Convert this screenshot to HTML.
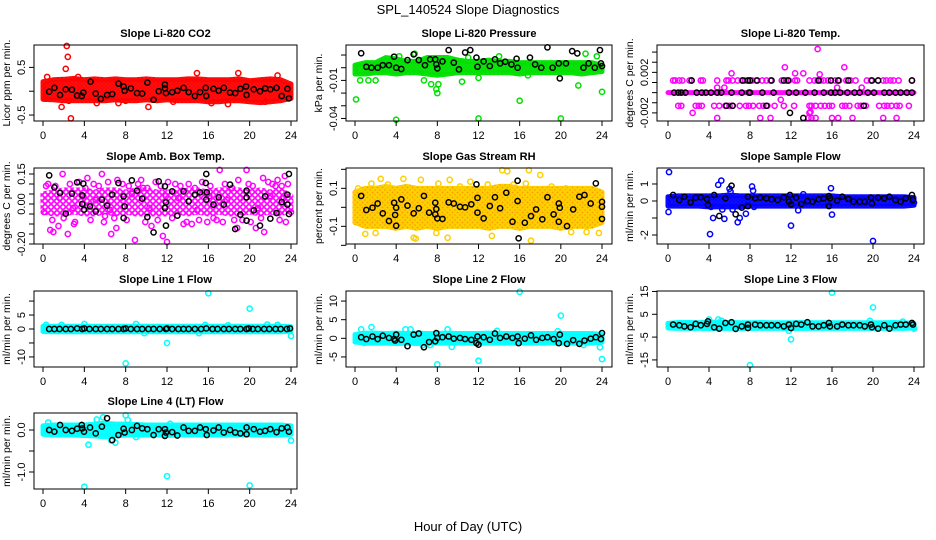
<!DOCTYPE html>
<html><head><meta charset="utf-8"><style>
body{margin:0;background:#fff}
svg{display:block;font-family:"Liberation Sans",sans-serif}
</style></head><body>
<svg id="chart" width="936" height="540" viewBox="0 0 936 540">
<defs id="defs"></defs>
<text x="468" y="14" font-size="13" text-anchor="middle">SPL_140524  Slope Diagnostics</text>
<text x="468" y="531" font-size="13" text-anchor="middle">Hour of Day (UTC)</text>
</svg>
<script>
// ---------- data ----------
const hours=[0,1,2,3,4,5,6,7,8,9,10,11,12,13,14,15,16,17,18,19,20,21,22,23,24];
const xTicks=[0,4,8,12,16,20,24];

const co2BandLo=[-0.17,-0.18,-0.2,-0.2,-0.2,-0.2,-0.2,-0.18,-0.2,-0.2,-0.18,-0.2,-0.18,-0.2,-0.2,-0.2,-0.22,-0.22,-0.2,-0.2,-0.22,-0.24,-0.22,-0.2,-0.15];
const co2BandHi=[0.2,0.24,0.25,0.27,0.24,0.26,0.24,0.26,0.24,0.24,0.26,0.24,0.24,0.24,0.26,0.26,0.24,0.24,0.24,0.26,0.22,0.24,0.26,0.24,0.15];
const co2OutX=[2.3,2.4,2.2,1.8,2.7,2.5,10.2,17.9,7.3,14.9,18.9,0.4,22.7,3.4,5.2,0.2,8,12.6,16.3,21.5];
const co2OutY=[0.95,0.72,0.47,-0.33,-0.57,-0.2,-0.33,-0.27,-0.25,0.38,0.38,0.3,0.33,0.3,-0.25,-0.15,-0.2,-0.22,-0.25,-0.22];
const co2BlkX=[0.6,1.1,1.65,2.2,2.8,3.3,3.75,3.9,4.6,5.1,5.6,6.2,6.7,7.3,7.8,7.9,8.5,9.1,9.6,10.1,10.7,11.2,11.8,11.8,11.9,12.5,13,13.6,14.1,14.7,15.2,15.75,15.8,16.5,17,17.5,18.1,18.6,19.1,19.65,19.7,20.4,21,21.5,22,22.6,23.1,23.65,23.8];
const co2BlkY=[-0.01,0.07,-0.08,0.04,0.03,-0.09,-0.1,-0.03,0.2,-0.05,-0.16,-0.08,-0.06,0.16,0.1,0.01,0.06,-0.04,-0.05,0.18,-0.18,0,0.06,0.14,-0.04,-0.02,0.01,0.07,-0.02,-0.1,-0.02,0.07,-0.1,0.05,0.01,0.07,-0.03,-0.04,0.05,0.1,-0.08,0.04,0,0.06,0.04,0.07,-0.1,0.05,-0.15];

const presBandLo=[-0.005,-0.005,-0.004,-0.004,-0.005,-0.004,-0.004,-0.005,-0.006,-0.005,-0.004,-0.004,-0.004,-0.004,-0.004,-0.004,-0.005,-0.004,-0.004,-0.004,-0.004,-0.004,-0.005,-0.004,-0.003];
const presBandHi=[0.002,0.004,0.004,0.008,0.007,0.005,0.005,0.008,0.008,0.008,0.006,0.005,0.005,0.006,0.005,0.005,0.004,0.004,0.004,0.004,0.004,0.004,0.004,0.004,0.002];
const presOutX=[0.1,4,12,16,20,24,8,7.9,8.1,21.7,0.5,1.3,10.4,14,22.4,23.5,2,6.7,12,16.8,7.4,4.3,5.8,11];
const presOutY=[-0.025,-0.041,-0.040,-0.026,-0.040,-0.019,-0.02,-0.017,-0.013,-0.014,-0.01,-0.01,-0.011,0.009,0.011,0.009,-0.01,-0.01,-0.008,-0.006,-0.013,0.009,0.011,0.008];
const presBlkX=[0.6,1.1,1.6,2.2,2.7,3.3,3.8,4.0,4.5,5.1,5.7,6.2,6.8,7.3,7.8,7.9,8.0,8.5,9.1,9.6,10.1,10.7,11.2,11.8,11.9,12.5,13.1,13.6,14.1,14.6,15.2,15.7,15.8,17,17.5,18.1,18.7,19.2,19.8,19.9,20.5,21.1,21.6,22.2,22.7,23.3,23.8,23.9,24];
const presBlkY=[0.0114,0.0007,0,0,0.002,0.002,0.0087,0,-0.001,0.006,0.0105,0.006,0.002,0.0066,0.0066,0.0026,-0.0005,0.005,0.0139,0.004,-0.0013,0.012,0.0139,0.008,0.0008,0.005,0.0013,0.0066,0.0034,0.0047,0.0026,0.0071,0,0.008,0.0026,0,0.016,0,0.0034,-0.0084,0.0034,0.0131,0.0113,0,0.0034,0,0.0139,0.0034,0.0013];

const tempBandLo=[0,0,0,0,0,0,0,0,0,0,0,0,0,0,0,0,0,0,0,0,0,0,0,0,0];
const tempBandHi=[0,0,0,0,0,0,0,0,0,0,0,0,0,0,0,0,0,0,0,0,0,0,0,0,0];
const tempOutX=[0.5,0.7,1.1,1.4,2.1,2.3,3.2,3.4,4.8,5.7,5.9,6.3,6.8,7.2,7.5,8.0,8.2,8.6,9.2,9.6,10.0,11.1,11.5,11.8,12.4,12.6,13.8,14.3,14.6,14.9,15.2,15.6,16.3,16.7,17.4,17.8,18.3,19.4,19.8,20.5,21.0,21.3,21.7,22.0,22.5,23.8,
1.0,1.3,2.7,3.0,3.3,4.5,5.0,5.6,6.0,6.3,7.0,7.6,7.9,8.3,8.9,9.3,9.7,10.4,11.3,12.3,13.8,14.0,14.4,14.9,15.3,15.7,16.0,17.0,17.3,17.7,18.5,18.8,19.3,20.6,21.1,21.4,21.8,22.3,22.6,23.5,
4.8,9.0,10.0,13.7,14.0,14.4,16.0,16.6,18.0,21.0,22.3,
14.6,11.4,17.2,6.2,12.4,13.2,14.8,4.8,5.5,16.5,18.9,11,2.4,13.8,13.9];
const tempOutY=[0.0012,0.0012,0.0012,0.0012,0.0012,0.0012,0.0012,0.0012,0.0012,0.0012,0.0012,0.0012,0.0012,0.0012,0.0012,0.0012,0.0012,0.0012,0.0012,0.0012,0.0012,0.0012,0.0012,0.0012,0.0012,0.0012,0.0012,0.0012,0.0012,0.0012,0.0012,0.0012,0.0012,0.0012,0.0012,0.0012,0.0012,0.0012,0.0012,0.0012,0.0012,0.0012,0.0012,0.0012,0.0012,0.0012,
-0.0013,-0.0013,-0.0013,-0.0013,-0.0013,-0.0013,-0.0013,-0.0013,-0.0013,-0.0013,-0.0013,-0.0013,-0.0013,-0.0013,-0.0013,-0.0013,-0.0013,-0.0013,-0.0013,-0.0013,-0.0013,-0.0013,-0.0013,-0.0013,-0.0013,-0.0013,-0.0013,-0.0013,-0.0013,-0.0013,-0.0013,-0.0013,-0.0013,-0.0013,-0.0013,-0.0013,-0.0013,-0.0013,-0.0013,-0.0013,
-0.0025,-0.0025,-0.0025,-0.0025,-0.0025,-0.0025,-0.0025,-0.0025,-0.0025,-0.0025,-0.0025,
0.0043,0.0025,0.0025,0.0019,0.0019,0.0019,0.0018,0.0005,0.0005,0.0005,0.0005,-0.0007,-0.002,-0.002,-0.0019];
const tempBlkX=[2.3,7.3,7.8,8.0,8.7,10.1,11.3,11.7,14.7,15.9,16.6,17.6,19.9,20.5,23.8,
5.7,6.3,9.6,19.1,13.2,11.9,
0.6,1.0,1.3,1.7,2.8,3.3,3.7,4.2,4.8,5.2,6.2,7.2,7.9,8.0,9.2,10.3,11.8,12.5,13.4,14.3,15.2,15.9,16.3,16.8,17.5,18.2,18.7,19.5,20.1,21.1,21.6,22.2,22.7,23.3,23.8];
const tempBlkY=[0.0012,0.0012,0.0012,0.0012,0.0012,0.0012,0.0012,0.0012,0.0012,0.0012,0.0012,0.0012,0.0012,0.0012,0.0012,
-0.0013,-0.0013,-0.0013,-0.0013,-0.0025,-0.002,
0,0,0,0,0,0,0,0,0,0,0,0,0,0,0,0,0,0,0,0,0,0,0,0,0,0,0,0,0,0,0,0,0,0,0];

const ambBandLo=[-0.04,-0.05,-0.05,-0.04,-0.05,-0.05,-0.04,-0.05,-0.04,-0.05,-0.05,-0.05,-0.05,-0.04,-0.05,-0.04,-0.05,-0.04,-0.05,-0.05,-0.04,-0.05,-0.04,-0.05,-0.03];
const ambBandHi=[0.05,0.06,0.07,0.07,0.07,0.06,0.07,0.07,0.06,0.07,0.07,0.06,0.06,0.06,0.07,0.07,0.06,0.07,0.07,0.07,0.06,0.07,0.06,0.07,0.04];
const ambOutX=[1.9,5.7,17.1,19.7,4.3,7.2,9.5,12.1,18.9,21.3,22.7,23.4,0.7,1,2.4,6.6,7.1,8.9,10.5,11.6,12,14.4,15.9,18.8,20.6,21.4,0.3,3,13.6,16.8,22.5,24,0.1,1.5,6,9.7,14.7,19.3,
0.5,1.2,2.6,3.5,4.1,4.9,5.4,6.3,7.7,8.3,9.2,10.1,10.9,11.4,12.8,13.3,14.1,15.4,16.2,17.6,18.3,19.9,20.3,21.8,22.2,23.1,23.7,
0.9,2.0,3.1,4.6,5.9,6.9,8.1,9.9,11.1,12.5,13.9,15.1,16.5,17.4,18.5,20.1,21.1,22.9,23.5,
1.6,2.9,3.9,5.1,6.5,7.5,8.6,10.3,11.9,13.1,14.9,16.1,17.8,19.1,20.8,22.0,23.3];
const ambOutY=[0.15,0.15,0.17,0.17,0.13,0.12,0.12,0.11,0.12,0.13,0.12,0.14,-0.13,-0.14,-0.15,-0.15,-0.12,-0.18,-0.11,-0.16,-0.19,-0.1,-0.09,-0.12,-0.12,-0.14,0.09,-0.1,-0.1,-0.08,0.09,-0.04,-0.04,-0.11,-0.06,0.08,0.08,-0.08,
0.1,0.09,0.1,0.11,0.08,0.1,0.09,0.11,0.1,0.09,0.1,0.08,0.11,0.09,0.1,0.09,0.1,0.11,0.09,0.1,0.08,0.1,0.09,0.11,0.1,0.09,0.1,
-0.08,-0.07,-0.09,-0.08,-0.09,-0.07,-0.08,-0.09,-0.08,-0.07,-0.09,-0.08,-0.07,-0.09,-0.08,-0.09,-0.07,-0.08,-0.09,
0.03,-0.02,0.04,0.02,-0.03,0.03,0.05,-0.02,0.04,0.03,-0.03,0.04,0.02,0.03,-0.02,0.04,0.03];
const ambBlkX=[0.6,1.1,1.65,2.2,2.8,3.3,3.9,3.8,3.8,3.97,4.55,5.1,5.7,6.2,6.7,7.3,7.8,7.9,7.8,8.6,9.1,9.6,10.1,10.7,11.2,11.8,11.9,11.8,11.9,12.5,13,13.6,14.1,14.7,15.2,15.8,15.75,15.8,15.85,16.5,17,17.5,18.1,18.6,19.1,19.7,19.7,19.7,20.4,21,21.5,22,22.6,23.1,23.65,23.8,23.65,23.8];
const ambBlkY=[0.143,0.083,0.055,-0.048,0.052,0.108,0.102,0.043,0,-0.028,-0.012,-0.037,0.022,-0.008,0.047,0.105,0.038,-0.012,-0.07,0.118,0.067,0.027,-0.065,-0.142,0.113,0.088,0.008,-0.02,-0.108,0.063,-0.058,0.063,0.013,0.047,0.058,0.15,0.105,0.022,0.058,-0.003,0.033,-0.003,0.097,-0.125,-0.053,0.067,0.033,-0.083,-0.032,-0.108,0.038,-0.073,-0.045,0.01,0.047,0.15,-0.003,-0.05];

const rhBandLo=[-0.08,-0.1,-0.1,-0.1,-0.11,-0.1,-0.11,-0.1,-0.11,-0.1,-0.1,-0.1,-0.1,-0.11,-0.1,-0.1,-0.11,-0.1,-0.1,-0.1,-0.11,-0.1,-0.1,-0.1,-0.08];
const rhBandHi=[0.08,0.1,0.1,0.11,0.1,0.11,0.1,0.1,0.1,0.1,0.1,0.1,0.1,0.1,0.11,0.11,0.1,0.1,0.1,0.1,0.1,0.1,0.1,0.1,0.08];
const rhOutX=[1,2,5.7,5.9,7.9,9,13.3,17.1,21,22.5,23.7,14.3,14.8,16.9,18,4.7,6.4,9.2,11.2,2.5,0.3,1.6,10.2,12.9,19.1,20.5,22.4,3.2,8.1,15.4,16.6];
const rhOutY=[-0.14,-0.135,-0.16,-0.165,-0.135,-0.16,-0.15,-0.175,-0.13,-0.13,-0.135,0.195,0.19,0.195,0.17,0.15,0.145,0.145,0.135,0.15,0.1,0.125,0.11,0.12,0.11,0.1,0.09,0.12,0.125,0.12,0.125];
const rhBlkX=[0.6,1.1,1.7,2.2,2.7,3.3,3.8,4.0,3.9,4.0,4.5,5.1,5.7,6.2,6.7,7.2,7.8,7.9,7.8,8.0,8.5,9.1,9.6,10.2,10.7,11.3,11.8,11.9,11.9,12.5,13.1,13.6,14.1,14.7,15.3,15.8,15.8,15.9,16.5,17.1,17.6,18.2,18.7,19.3,19.8,19.9,19.8,20.6,21.2,21.8,22.3,22.9,23.4,24,24,24];
const rhBlkY=[0.06,-0.014,-0.002,0.02,-0.032,-0.072,0.024,-0.002,-0.04,-0.097,0.042,0.009,-0.032,-0.005,0.06,-0.028,0.024,-0.009,-0.037,-0.058,-0.061,0.026,0.02,0.003,0,0.016,0.121,0.05,-0.028,-0.058,0.007,0.053,-0.005,0.077,-0.076,0.14,0.033,-0.163,-0.081,-0.046,-0.011,-0.063,0.053,-0.037,0.02,-0.002,-0.076,-0.099,-0.011,0.056,0.065,0.02,0.126,0.029,0.003,-0.061];

const sfBandLo=[-0.3,-0.3,-0.3,-0.3,-0.35,-0.35,-0.35,-0.35,-0.3,-0.3,-0.3,-0.3,-0.3,-0.3,-0.3,-0.3,-0.3,-0.3,-0.3,-0.3,-0.3,-0.3,-0.3,-0.3,-0.25];
const sfBandHi=[0.25,0.3,0.3,0.3,0.3,0.3,0.35,0.3,0.3,0.3,0.3,0.3,0.3,0.3,0.3,0.3,0.3,0.25,0.25,0.25,0.25,0.25,0.25,0.25,0.2];
const sfOutX=[0.1,0.05,4.1,4.4,4.9,5.2,5.5,5.3,6,6.1,6.8,7,7.6,8.2,8.3,8.4,12,12.7,13.2,15.9,16,20,24,4.2,6.3];
const sfOutY=[1.7,-0.65,-1.95,-1.0,0.95,1.2,-1.05,-0.5,0.72,0.55,-1.25,-1.0,-0.75,0.85,0.6,-0.35,-1.45,-0.55,0.4,0.75,-0.8,-2.35,-0.1,-0.35,-0.5];
const sfBlkX=[0.5,1.1,1.6,2.2,2.7,3.2,3.8,3.9,4.5,5.0,5.6,6.2,6.6,7.2,7.8,7.8,8.5,9.0,9.6,10.1,10.7,11.3,11.8,11.9,12,12.5,13.0,13.6,14.1,14.7,15.2,15.7,15.7,15.8,16.5,17.0,17.6,18.1,18.7,19.2,19.8,19.9,20.5,21.1,21.6,22.2,22.7,23.2,23.8,23.9];
const sfBlkY=[0.35,0.06,0.25,-0.08,0.2,0.22,0.12,-0.24,0.35,-0.88,0.16,0.9,-0.78,-0.39,0.25,-0.3,0.16,0.2,0.16,0.1,0.06,0.22,-0.04,0.35,-0.2,0.2,-0.18,0,-0.04,0.1,0.16,0.29,-0.3,0.16,0.02,0.25,0.12,-0.04,-0.04,-0.04,0.2,-0.14,0.2,0.16,0.25,0.06,-0.04,0.16,0.35,0.06];

const l1BandLo=[-0.9,-1,-1,-1,-1,-1,-1,-1,-1,-1,-1,-1,-1,-1,-1,-1,-1,-1,-1,-1,-1,-1,-1,-1,-0.8];
const l1BandHi=[1,1,1,1,1,1,1,1,1,1,1,1,1,1,1,1,1,1,1,1,1,1,1,1,0.8];
const l1OutX=[16,20,12,8,24,4,9,15.7,17.9,21.7,22.7,0.3,1.8,9.8,15.1];
const l1OutY=[12.8,7.3,-5,-12.3,-2.5,1.8,1.8,1.5,1.3,1.6,1.5,1.5,1.5,-1.5,-1.5];
const l1BlkX=[0.6,1.1,1.6,2.2,2.7,3.3,3.8,4.0,4.5,5.1,5.6,6.2,6.7,7.3,7.8,8.0,8.5,9.1,9.6,10.2,10.7,11.3,11.9,12.0,12.5,13.1,13.6,14.1,14.7,15.3,15.8,16.4,16.9,17.5,18.0,18.6,19.1,19.7,19.9,20.3,20.8,21.4,21.9,22.5,23.0,23.6,23.9];
const l1BlkY=[0,0,0,0,0,0.2,0,0.2,0,0,0,0,0,0,0,0.2,0,0,0,0,0,0,0,0.2,0,0,0,0,0,0,0.2,0,0,0,0,0,0,0,0.2,0,0,0,0,0,0,0,0.2];

const l2BandLo=[-1,-1.3,-1.3,-1.3,-1.4,-1.3,-1.4,-1.3,-1.3,-1.3,-1.3,-1.3,-1.3,-1.3,-1.3,-1.3,-1.3,-1.3,-1.3,-1.3,-1.3,-1.3,-1.3,-1.3,-1];
const l2BandHi=[1,1.4,1.4,1.3,1.4,1.3,1.4,1.3,1.3,1.4,1.3,1.3,1.3,1.4,1.3,1.3,1.3,1.3,1.3,1.3,1.3,1.3,1.3,1.3,1];
const l2OutX=[16,20,8,12,24,23.8,9.4,1.6,0.6,4.9,5.4,9.0,6.6,13.8,19.7,0.9,7.3,22.2];
const l2OutY=[12.5,6.1,-7,-6,-5.6,-2.4,-2.3,3,2.4,2.4,2.4,2.4,-1.8,2.0,1.9,-1.2,-1.8,-1.8];
const l2BlkX=[0.6,1.1,1.7,2.2,2.7,3.3,3.8,4.0,3.9,4.5,5.1,5.7,6.2,6.7,7.2,7.8,7.9,8.0,8.5,9.1,9.6,10.2,10.7,11.3,11.8,11.9,12,12.5,13.1,13.6,14.1,14.7,15.3,15.8,15.9,16.5,17.1,17.6,18.2,18.7,19.3,19.8,19.9,20.6,21.2,21.8,22.3,22.9,23.4,24,23.9];
const l2BlkY=[0.3,-0.2,0.5,-0.2,0.7,0.1,-0.2,1.0,-0.6,-0.4,-2.1,1.0,1.3,-2.4,-1.0,-0.8,1.4,0.1,0.3,0.5,-0.1,0.1,-0.2,-0.4,-1.3,0.5,-1.7,0.3,-0.4,1.3,0.1,0.5,0.1,0.5,-1.3,-0.1,0.8,-0.4,0.1,0.3,-0.2,-1.3,1.0,-1.5,-0.5,-1.5,-0.6,-0.1,0.3,1.4,-0.2];

const l3BandLo=[-1,-1.2,-1.2,-1.2,-1.3,-1.2,-1.2,-1.3,-1.2,-1.2,-1.2,-1.2,-1.3,-1.2,-1.2,-1.2,-1.2,-1.2,-1.2,-1.2,-1.2,-1.2,-1.2,-1.2,-1];
const l3BandHi=[1,1.4,1.4,1.3,1.6,1.4,1.4,1.3,1.3,1.4,1.3,1.3,1.3,1.4,1.3,1.3,1.3,1.3,1.3,1.3,1.3,1.3,1.4,1.3,1];
const l3OutX=[16,20,12,8,4,4.9,5.2,19.7,22.9,0.2,24,11.8];
const l3OutY=[14.5,8,-6,-17.3,2.7,2.7,2.2,2.1,1.8,0.3,-1.3,-2.2];
const l3BlkX=[0.5,1.1,1.6,2.2,2.7,3.2,3.8,3.9,4.5,5.0,5.6,6.2,6.6,7.2,7.8,7.8,8.5,9,9.6,10.1,10.7,11.3,11.8,12,12.5,13,13.6,14.1,14.7,15.2,15.7,15.8,16.5,17,17.6,18.1,18.7,19.2,19.8,19.9,20.5,21.1,21.6,22.2,22.7,23.2,23.8,23.9];
const l3BlkY=[0.5,0.2,-0.3,-0.7,0.8,0.2,0.8,1.9,-0.7,-1.3,1.2,1.5,-1.4,-0.3,0.5,-1,0.5,0.2,0.2,0.2,0.2,-0.3,0.5,-1,0.8,0.5,1.5,-0.3,-0.3,0.2,1.2,-0.3,-0.3,0.5,0.2,0.2,0.2,-0.3,0.5,-0.7,-1.3,0.2,-1.3,0.2,0.5,0.5,1.2,0.5];

const l4BandLo=[-0.1,-0.12,-0.12,-0.12,-0.13,-0.14,-0.16,-0.14,-0.12,-0.12,-0.12,-0.12,-0.13,-0.12,-0.12,-0.12,-0.12,-0.12,-0.12,-0.12,-0.12,-0.12,-0.12,-0.12,-0.1];
const l4BandHi=[0.1,0.12,0.12,0.12,0.12,0.14,0.16,0.14,0.14,0.13,0.12,0.12,0.12,0.12,0.12,0.12,0.12,0.12,0.12,0.12,0.12,0.12,0.12,0.12,0.1];
const l4OutX=[4,12,20,4.4,24,8,8.2,5.8,5.2,7,0.5,6.6,9,12.3];
const l4OutY=[-1.35,-1.1,-1.32,-0.35,-0.25,0.35,0.24,0.3,0.25,-0.3,0.18,-0.25,-0.17,0.15];
const l4BlkX=[0.6,1.1,1.65,2.2,2.8,3.3,3.75,3.8,3.97,4.55,5.1,5.7,6.2,6.7,7.3,7.8,7.9,8.6,9.1,9.6,10.1,10.7,11.2,11.8,11.8,11.9,12.5,13,13.6,14.1,14.7,15.2,15.75,15.85,16.5,17,17.5,18.1,18.6,19.1,19.7,19.7,20.4,21,21.5,22,22.6,23.1,23.65,23.8];
const l4BlkY=[0,-0.04,0.12,0,-0.02,0.03,0.12,0.04,-0.04,0.06,-0.08,0.08,0.28,-0.24,-0.12,0.03,-0.06,0,0.1,0.04,0.02,-0.12,0.02,0.02,-0.14,-0.06,-0.05,-0.13,0.06,-0.02,-0.02,0.06,0.02,-0.12,-0.01,0.06,-0.06,0,-0.06,-0.08,0.06,-0.1,0.02,-0.04,-0.02,0.02,-0.05,0.04,0.06,-0.04];

// ---------- layout ----------
const NS="http://www.w3.org/2000/svg";
const svg=document.getElementById('chart');
const defs=document.getElementById('defs');
const cols=[{l:34,r:297,x0:43,x24:291},{l:346,r:612,x0:355,x24:602},{l:657,r:924,x0:668,x24:914}];
const rowTop=[45,168,291,413], H=76;

const panels=[
 {id:'co2',title:'Slope Li-820 CO2',ylab:'Licor ppm per min.',c:0,r:0,ymin:-0.625,ymax:0.97,ticks:[-0.5,0,0.5],labs:['-0.5','','0.5'],col:'#ff0000',sp:4,lo:co2BandLo,hi:co2BandHi,ox:co2OutX,oy:co2OutY,bx:co2BlkX,by:co2BlkY},
 {id:'pressure',title:'Slope Li-820 Pressure',ylab:'kPa per min.',c:1,r:0,ymin:-0.042,ymax:0.0179,ticks:[-0.04,-0.03,-0.02,-0.01,0,0.01],labs:['-0.04','','','-0.01','',''],col:'#00e000',sp:4,lo:presBandLo,hi:presBandHi,ox:presOutX,oy:presOutY,bx:presBlkX,by:presBlkY},
 {id:'temp',title:'Slope Li-820 Temp.',ylab:'degrees C per min.',c:2,r:0,ymin:-0.0028,ymax:0.0047,ticks:[-0.002,-0.001,0,0.001,0.002,0.003,0.004],labs:['-0.002','','','','0.002','',''],col:'#ff00ff',sp:4,lo:tempBandLo,hi:tempBandHi,ox:tempOutX,oy:tempOutY,bx:tempBlkX,by:tempBlkY},
 {id:'amb',title:'Slope Amb. Box Temp.',ylab:'degrees C per min.',c:0,r:1,ymin:-0.2,ymax:0.18,ticks:[-0.2,-0.15,-0.1,-0.05,0,0.05,0.1,0.15],labs:['-0.20','','','','0.00','','','0.15'],col:'#ff00ff',sp:6,lo:ambBandLo,hi:ambBandHi,ox:ambOutX,oy:ambOutY,bx:ambBlkX,by:ambBlkY},
 {id:'rh',title:'Slope Gas Stream RH',ylab:'percent per min.',c:1,r:1,ymin:-0.193,ymax:0.207,ticks:[-0.2,-0.1,0,0.1,0.2],labs:['','-0.1','','0.1',''],col:'#ff9a00',edge:'#ffd000',sp:5,lo:rhBandLo,hi:rhBandHi,ox:rhOutX,oy:rhOutY,bx:rhBlkX,by:rhBlkY},
 {id:'sample',title:'Slope Sample Flow',ylab:'ml/min per min.',c:2,r:1,ymin:-2.53,ymax:1.94,ticks:[-2,-1,0,1],labs:['-2','','0','1'],col:'#0000ff',sp:4,lo:sfBandLo,hi:sfBandHi,ox:sfOutX,oy:sfOutY,bx:sfBlkX,by:sfBlkY},
 {id:'line1',title:'Slope Line 1 Flow',ylab:'ml/min per min.',c:0,r:2,ymin:-13.6,ymax:13.6,ticks:[-10,-5,0,5,10],labs:['-10','','0','5',''],col:'#00ffff',sp:4,lo:l1BandLo,hi:l1BandHi,ox:l1OutX,oy:l1OutY,bx:l1BlkX,by:l1BlkY},
 {id:'line2',title:'Slope Line 2 Flow',ylab:'ml/min per min.',c:1,r:2,ymin:-7.7,ymax:12.7,ticks:[-5,0,5,10],labs:['-5','0','5','10'],col:'#00ffff',sp:4,lo:l2BandLo,hi:l2BandHi,ox:l2OutX,oy:l2OutY,bx:l2BlkX,by:l2BlkY},
 {id:'line3',title:'Slope Line 3 Flow',ylab:'ml/min per min.',c:2,r:2,ymin:-18.1,ymax:15.2,ticks:[-15,-5,5,15],labs:['-15','-5','5','15'],col:'#00ffff',sp:4,lo:l3BandLo,hi:l3BandHi,ox:l3OutX,oy:l3OutY,bx:l3BlkX,by:l3BlkY},
 {id:'line4',title:'Slope Line 4 (LT) Flow',ylab:'ml/min per min.',c:0,r:3,ymin:-1.405,ymax:0.405,ticks:[-1,-0.5,0],labs:['-1.0','','0.0'],col:'#00ffff',sp:4,lo:l4BandLo,hi:l4BandHi,ox:l4OutX,oy:l4OutY,bx:l4BlkX,by:l4BlkY}
];

function mk(tag,attrs,parent){const e=document.createElementNS(NS,tag);for(const k in attrs)e.setAttribute(k,attrs[k]);(parent||svg).appendChild(e);return e;}

panels.forEach(p=>{
  // textured pattern of open circles
  const pat=mk('pattern',{id:'pat-'+p.id,patternUnits:'userSpaceOnUse',width:p.sp,height:p.sp},defs);
  if(p.edge) mk('rect',{x:0,y:0,width:p.sp,height:p.sp,fill:p.col},pat);
  mk('circle',{cx:p.sp/2,cy:p.sp/2,r:2.2,fill:'none',stroke:p.edge||p.col,'stroke-width':1.4},pat);
  mk('circle',{cx:0,cy:0,r:2.2,fill:'none',stroke:p.edge||p.col,'stroke-width':1.4},pat);
  mk('circle',{cx:p.sp,cy:p.sp,r:2.2,fill:'none',stroke:p.edge||p.col,'stroke-width':1.4},pat);
  mk('circle',{cx:p.sp,cy:0,r:2.2,fill:'none',stroke:p.edge||p.col,'stroke-width':1.4},pat);
  mk('circle',{cx:0,cy:p.sp,r:2.2,fill:'none',stroke:p.edge||p.col,'stroke-width':1.4},pat);

  const C=cols[p.c], top=rowTop[p.r], bot=top+H;
  const xs=h=>C.x0+(h/24)*(C.x24-C.x0);
  const ys=v=>bot-(v-p.ymin)/(p.ymax-p.ymin)*H;
  const g=mk('g',{});
  
  
  const t=mk('text',{x:(C.l+C.r)/2,y:top-8,'font-size':11,'font-weight':'bold','text-anchor':'middle'},g);
  t.textContent=p.title;
  
  
  // band
  let pts=hours.map((h,i)=>xs(h)+','+ys(p.hi[i]));
  pts=pts.concat(hours.slice().reverse().map((h,j)=>xs(h)+','+ys(p.lo[hours.length-1-j])));
  const band=mk('polygon',{points:pts.join(' '),fill:'url(#pat-'+p.id+')',stroke:'url(#pat-'+p.id+')','stroke-width':5,'stroke-linejoin':'round'},g);
  
  
  // outliers
  p.ox.forEach((x,i)=>{
    const c=mk('circle',{cx:xs(x),cy:ys(p.oy[i]),r:2.6,fill:'none',stroke:p.edge||p.col,'stroke-width':1.5},g);
    
    
  });
  // black points
  p.bx.forEach((x,i)=>{
    const c=mk('circle',{cx:xs(x),cy:ys(p.by[i]),r:2.6,fill:'none',stroke:'#000','stroke-width':1.5},g);
    
    
  });
  // box
  const box=mk('rect',{x:C.l,y:top,width:C.r-C.l,height:H,fill:'none',stroke:'#000','stroke-width':1},g);
  
  
  // x axis
  mk('line',{x1:xs(0),x2:xs(24),y1:bot,y2:bot,stroke:'#000'},g);
  xTicks.forEach(h=>{
    mk('line',{x1:xs(h),x2:xs(h),y1:bot,y2:bot+5,stroke:'#000'},g);
    const tl=mk('text',{x:xs(h),y:bot+18,'font-size':11,'text-anchor':'middle'},g);
    tl.textContent=h;
    
    
  });
  // y axis
  const ty=p.ticks.map(ys);
  mk('line',{x1:C.l,x2:C.l,y1:Math.min(...ty),y2:Math.max(...ty),stroke:'#000'},g);
  p.ticks.forEach((v,i)=>{
    mk('line',{x1:C.l-5,x2:C.l,y1:ys(v),y2:ys(v),stroke:'#000'},g);
    if(p.labs[i]){
      const yl=mk('text',{x:0,y:0,'font-size':11,'text-anchor':'middle',transform:`translate(${C.l-9},${ys(v)}) rotate(-90)`},g);
      yl.textContent=p.labs[i];
      
      
    }
  });
  const yt=mk('text',{x:0,y:0,'font-size':10.5,'text-anchor':'middle',transform:`translate(${C.l-24},${top+H/2}) rotate(-90)`},g);
  yt.textContent=p.ylab;
  
  
});
</script>
</body></html>
